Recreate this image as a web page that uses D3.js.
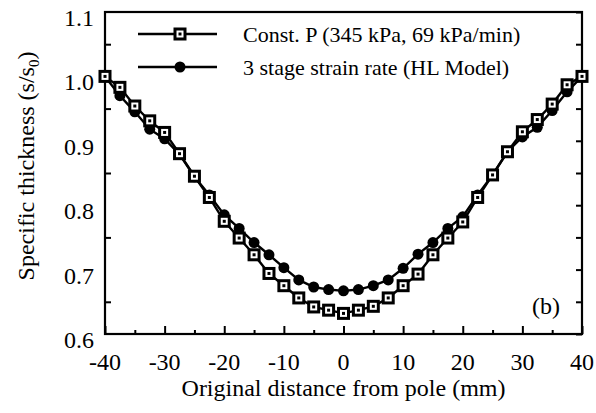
<!DOCTYPE html>
<html>
<head>
<meta charset="utf-8">
<script src="https://cdn.jsdelivr.net/npm/d3@7"></script>
<style>
  body { margin: 0; background: #fff; }
  svg text { font-family: "Liberation Serif", "Times New Roman", serif; fill: #000; }
</style>
</head>
<body>
<svg id="chart" width="596" height="413"></svg>
<script>
// Original distance from pole (mm)
const distance = [-40, -37.5, -35, -32.5, -30, -27.5, -25, -22.5, -20, -17.5, -15, -12.5, -10, -7.5, -5, -2.5,
                  0, 2.5, 5, 7.5, 10, 12.5, 15, 17.5, 20, 22.5, 25, 27.5, 30, 32.5, 35, 37.5, 40];

// Const. P (345 kPa, 69 kPa/min)
const constP = [1.000, 0.983, 0.954, 0.931, 0.913, 0.880, 0.845, 0.812, 0.775, 0.749, 0.723, 0.694, 0.675, 0.656, 0.642, 0.637,
                0.632, 0.637, 0.643, 0.656, 0.675, 0.693, 0.723, 0.749, 0.774, 0.812, 0.847, 0.883, 0.914, 0.933, 0.957, 0.987, 1.000];

// 3 stage strain rate (HL Model)
const hlModel = [1.000, 0.970, 0.945, 0.918, 0.903, 0.879, 0.844, 0.816, 0.785, 0.764, 0.742, 0.723, 0.703, 0.684, 0.673, 0.669,
                 0.667, 0.669, 0.675, 0.684, 0.702, 0.724, 0.742, 0.764, 0.782, 0.816, 0.847, 0.883, 0.906, 0.921, 0.947, 0.976, 1.000];

const xTicks = [-40, -30, -20, -10, 0, 10, 20, 30, 40];
const xMinor = [-35, -25, -15, -5, 5, 15, 25, 35];
const yTicks = [0.6, 0.7, 0.8, 0.9, 1.0, 1.1];
const yMinor = [0.65, 0.75, 0.85, 0.95, 1.05];

const legendLabels = ["Const. P (345 kPa, 69 kPa/min)", "3 stage strain rate (HL Model)"];

const plotLeft = 105, plotRight = 582, plotTop = 12, plotBottom = 334;

const svg = d3.select("#chart");

const x = d3.scaleLinear().domain([-40, 40]).range([plotLeft, plotRight]);
const y = d3.scaleLinear().domain([0.6, 1.1]).range([plotBottom, plotTop]);

// frame
svg.append("rect")
    .attr("x", plotLeft).attr("y", plotTop)
    .attr("width", plotRight - plotLeft).attr("height", plotBottom - plotTop)
    .attr("fill", "none").attr("stroke", "#000").attr("stroke-width", 2.2);

// bottom axis, ticks pointing inward
svg.append("g")
    .attr("transform", `translate(0, ${plotBottom})`)
    .call(d3.axisTop(x).tickValues(xTicks).tickSize(8).tickFormat(""))
    .call(g => g.select(".domain").remove())
    .selectAll("line").attr("stroke-width", 2);

svg.append("g")
    .attr("transform", `translate(0, ${plotBottom})`)
    .call(d3.axisTop(x).tickValues(xMinor).tickSize(4).tickFormat(""))
    .call(g => g.select(".domain").remove())
    .selectAll("line").attr("stroke-width", 2);

svg.append("g").selectAll("text")
    .data(xTicks)
    .join("text")
    .attr("x", d => x(d))
    .attr("y", 370)
    .attr("text-anchor", "middle")
    .attr("font-size", 24)
    .text(d => d);

// left axis
svg.append("g")
    .attr("transform", `translate(${plotLeft}, 0)`)
    .call(d3.axisRight(y).tickValues(yMinor).tickSize(6).tickFormat(""))
    .call(g => g.select(".domain").remove())
    .selectAll("line").attr("stroke-width", 2);

// right axis
svg.append("g")
    .attr("transform", `translate(${plotRight}, 0)`)
    .call(d3.axisLeft(y).tickValues(yTicks.concat(yMinor)).tickSize(6).tickFormat(""))
    .call(g => g.select(".domain").remove())
    .selectAll("line").attr("stroke-width", 2);

svg.append("g").selectAll("text")
    .data(yTicks)
    .join("text")
    .attr("x", 94)
    .attr("y", d => y(d) + 14)
    .attr("text-anchor", "end")
    .attr("font-size", 24)
    .text(d => d.toFixed(1));

// axis titles
svg.append("text")
    .attr("x", (plotLeft + plotRight) / 2)
    .attr("y", 396)
    .attr("text-anchor", "middle")
    .attr("font-size", 24)
    .text("Original distance from pole (mm)");

const yTitle = svg.append("text")
    .attr("transform", "translate(34, 166) rotate(-90)")
    .attr("text-anchor", "middle")
    .attr("font-size", 24);
yTitle.append("tspan").text("Specific thickness (s/s");
yTitle.append("tspan").attr("font-size", 15).attr("dy", 5).text("0");
yTitle.append("tspan").attr("dy", -5).text(")");

// panel label
svg.append("text")
    .attr("x", 546).attr("y", 314)
    .attr("text-anchor", "middle")
    .attr("font-size", 24)
    .text("(b)");

const line = d3.line()
    .x((d, i) => x(distance[i]))
    .y(d => y(d));

// series lines
[constP, hlModel].forEach(s => {
    svg.append("path")
        .datum(s)
        .attr("fill", "none")
        .attr("stroke", "#000")
        .attr("stroke-width", 2.4)
        .attr("d", line);
});

function drawSquare(g, cx, cy) {
    g.append("rect")
        .attr("x", cx - 5).attr("y", cy - 5)
        .attr("width", 10).attr("height", 10)
        .attr("fill", "#fff").attr("stroke", "#000").attr("stroke-width", 3);
    g.append("rect")
        .attr("x", cx - 1.5).attr("y", cy - 1.5)
        .attr("width", 3).attr("height", 3)
        .attr("fill", "#000");
}

// markers
svg.append("g").selectAll("circle")
    .data(hlModel)
    .join("circle")
    .attr("cx", (d, i) => x(distance[i]))
    .attr("cy", d => y(d))
    .attr("r", 5.5)
    .attr("fill", "#000");

const sqG = svg.append("g");
constP.forEach((d, i) => drawSquare(sqG, x(distance[i]), y(d)));

// legend
const legendY = [34, 67];
legendY.forEach((ly, i) => {
    svg.append("line")
        .attr("x1", 138).attr("x2", 217)
        .attr("y1", ly).attr("y2", ly)
        .attr("stroke", "#000").attr("stroke-width", 2.4);
    if (i === 0) drawSquare(svg, 180, ly);
    else svg.append("circle").attr("cx", 180).attr("cy", ly).attr("r", 5.5).attr("fill", "#000");
    svg.append("text")
        .attr("x", 243).attr("y", ly + 8)
        .attr("font-size", 22)
        .text(legendLabels[i]);
});
</script>
</body>
</html>
